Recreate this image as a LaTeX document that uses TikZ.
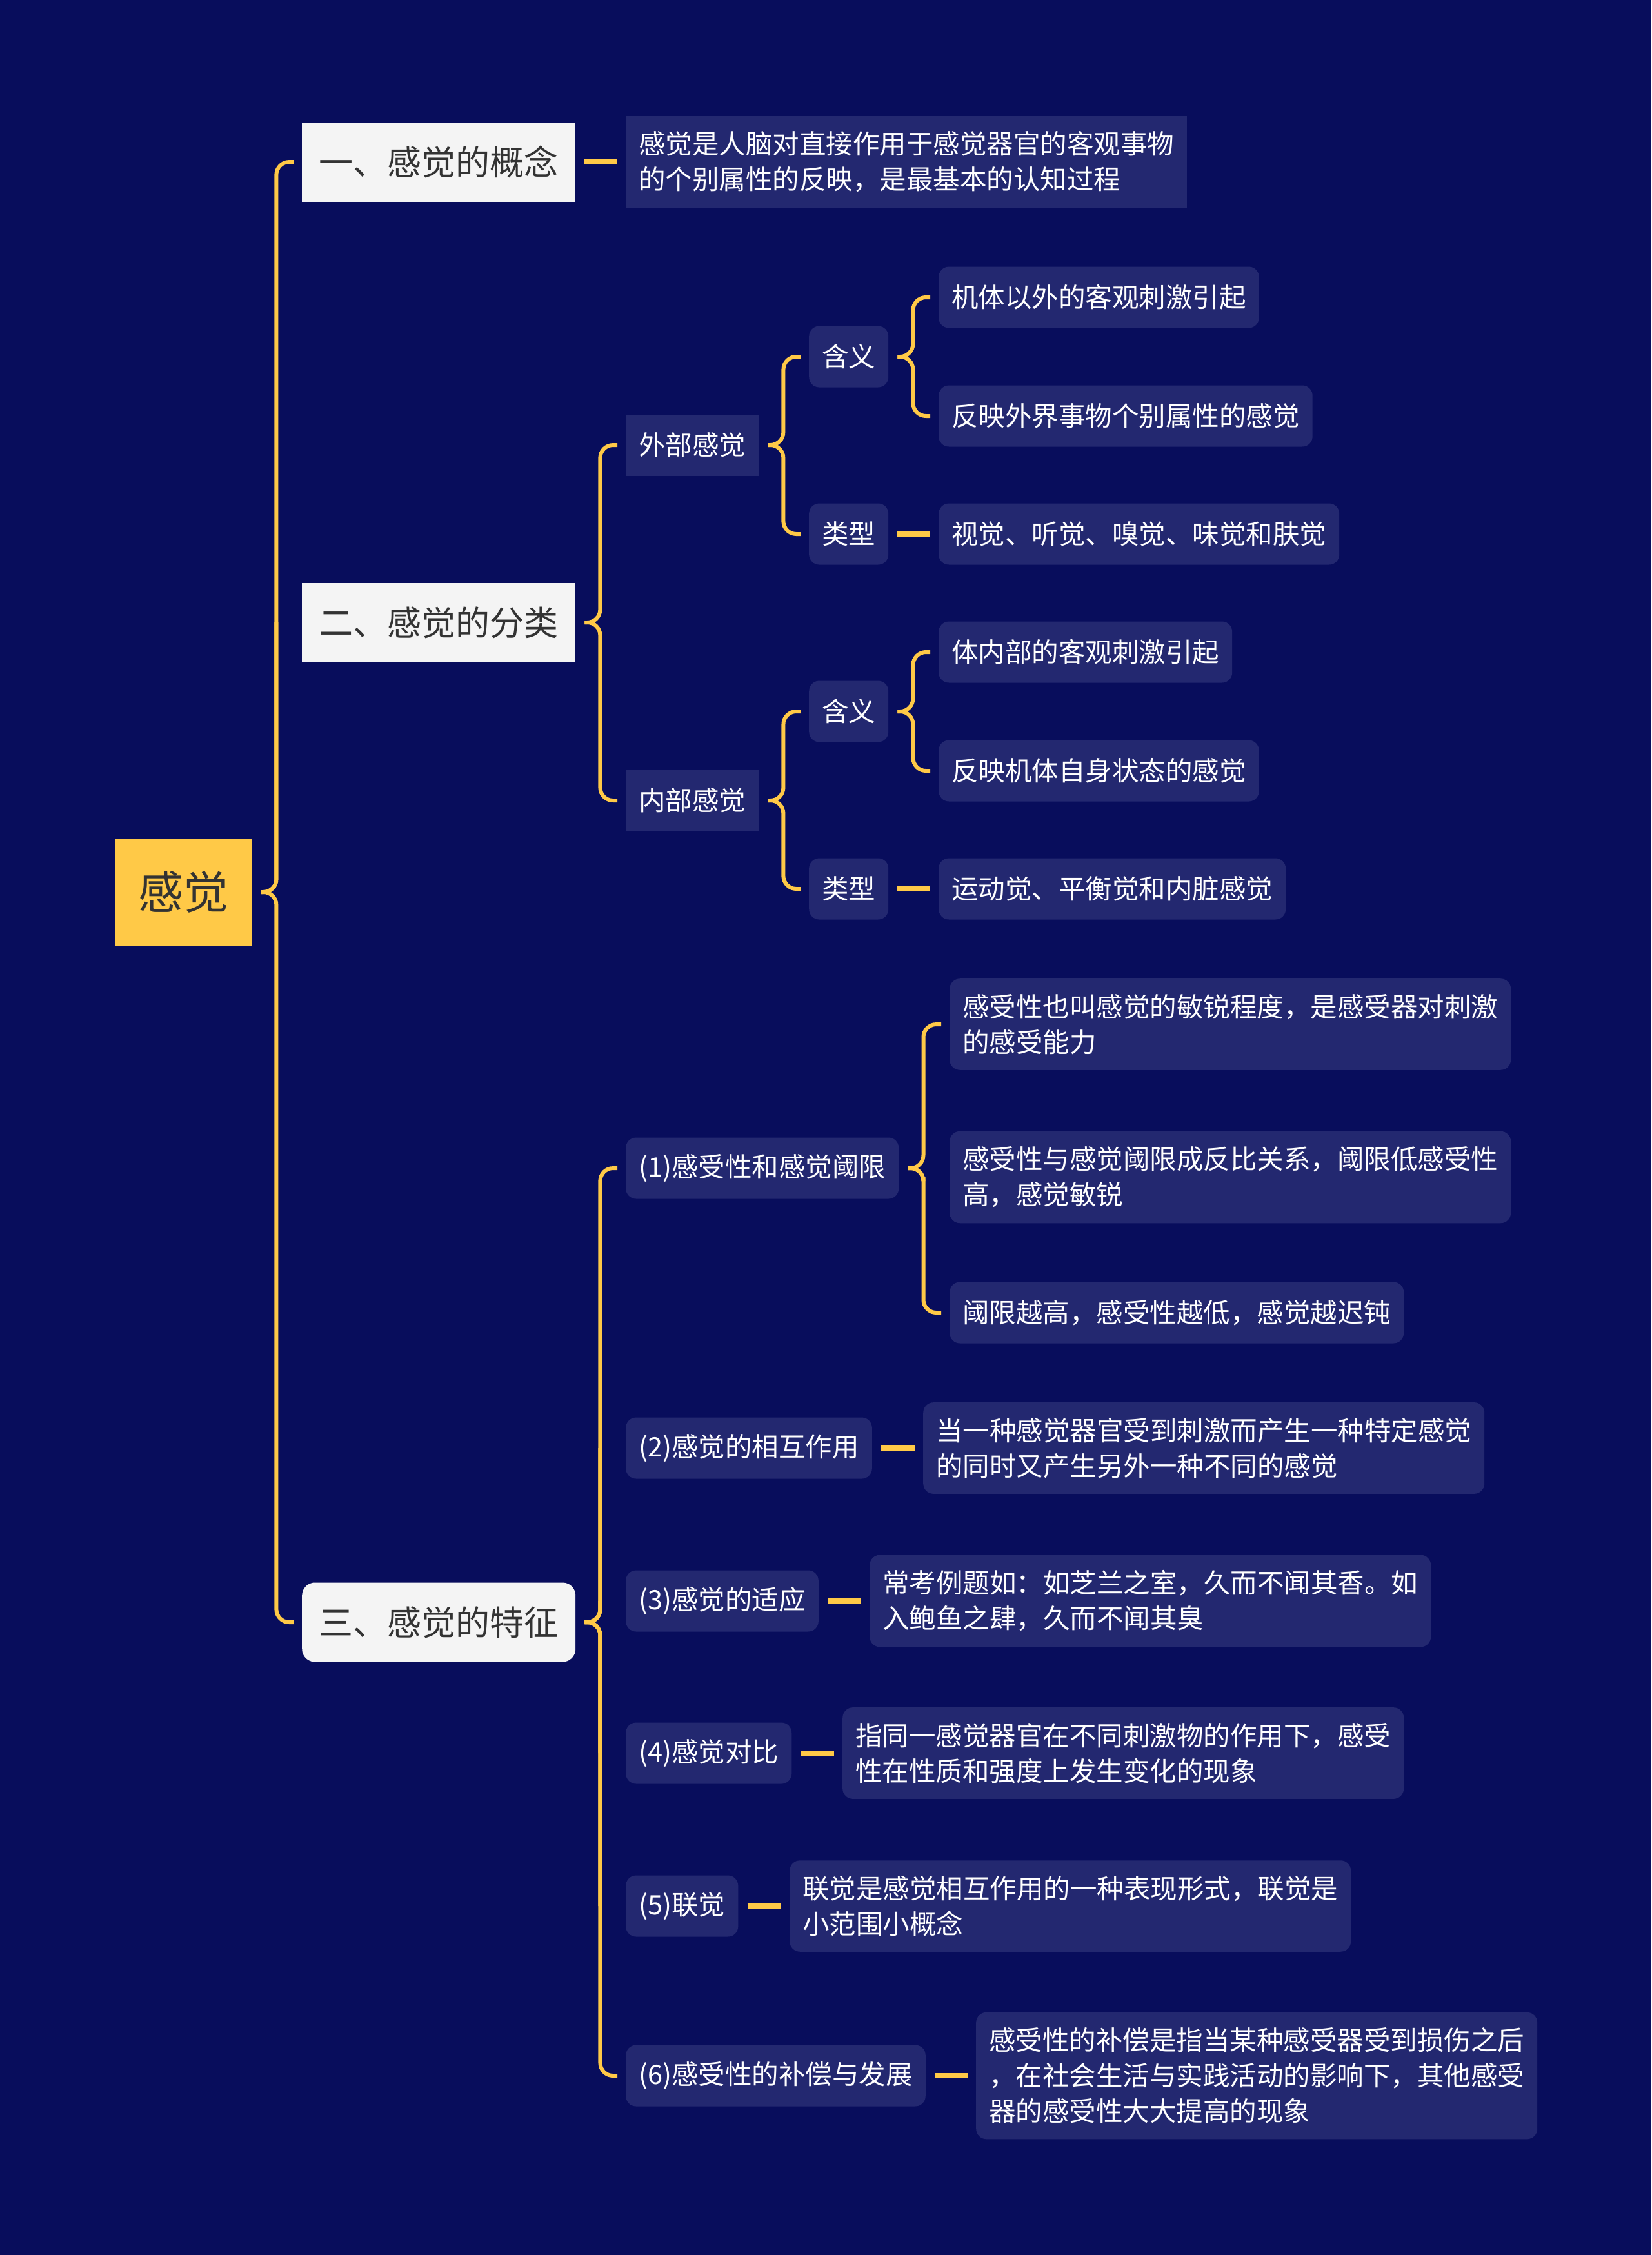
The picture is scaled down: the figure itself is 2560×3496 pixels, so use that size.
\documentclass[tikz,border=0pt]{standalone}
\usepackage{fontspec}
\setmainfont{Noto Sans CJK SC}
\usepackage{tikz}
\usetikzlibrary{positioning, calc}
\definecolor{Navy}{RGB}{8, 13, 92}
\definecolor{Panel}{RGB}{35, 40, 112}
\definecolor{Gold}{RGB}{255, 201, 71}
\definecolor{Paper}{RGB}{244, 244, 244}
\definecolor{Ink}{RGB}{51, 51, 51}

\begin{document}
\begin{tikzpicture}[x=1pt, y=-1pt,
        root/.style={rectangle, fill=Gold, text=Ink, inner xsep=36pt, minimum height=166pt, anchor=west, font=\fontsize{70}{84}\selectfont},
        topic/.style={rectangle, fill=Paper, text=Ink, inner xsep=26.5pt, minimum height=123pt, anchor=west, font=\fontsize{53}{64}\selectfont},
        sub/.style={rectangle, fill=Panel, text=white, inner xsep=20pt, inner ysep=24pt, minimum height=95pt, align=left, anchor=west, font=\fontsize{41.5}{55}\selectfont},
        leaf/.style={sub, rounded corners=16pt},
        brace/.style={draw=Gold, line width=6pt, rounded corners=20pt,
            to path={($(\tikztostart.east)+(14pt,0pt)$) -- ($(\tikztostart.east)+(38pt,0pt)$) |- ($(\tikztotarget.west)+(-13pt,0pt)$)}},
        brace mid/.style={draw=Gold, line width=6pt, rounded corners=20pt,
            to path={($(\tikztostart.east)+(14pt,0pt)$) -- ($(\tikztostart.east)+(38pt,0pt)$) -- ($(\tikztostart.east |- \tikztotarget.west)+(38pt,0pt)$)}},
        stub/.style={draw=Gold, line width=8pt, shorten <=14pt, shorten >=13pt}
    ]%
        % ================= FONDO =================
        \fill[Navy] (0,0) rectangle (2560,3496);
        % ================= RAIZ Y TEMAS =================
        \node[root] (root) at (178, 1383) {感觉};
        \node[topic] (t1) at (468, 251) {一、感觉的概念};
        \node[topic] (t2) at (468, 965) {二、感觉的分类};
        \node[topic, rounded corners=20pt] (t3) at (468, 2515) {三、感觉的特征};
        % ================= 一、概念 =================
        \node[sub] (d1) at (970, 251) {感觉是人脑对直接作用于感觉器官的客观事物\\的个别属性的反映，是最基本的认知过程};
        % ================= 二、分类 =================
        % 1. 外部感觉
        \node[sub] (ext) at (970, 690) {外部感觉};
        \node[leaf] (extm) at (1254, 553) {含义};
        \node[leaf] (extt) at (1254, 828) {类型};
        \node[leaf] (extm1) at (1455, 461) {机体以外的客观刺激引起};
        \node[leaf] (extm2) at (1455, 645) {反映外界事物个别属性的感觉};
        \node[leaf] (extt1) at (1455, 828) {视觉、听觉、嗅觉、味觉和肤觉};
        % 2. 内部感觉
        \node[sub] (int) at (970, 1241) {内部感觉};
        \node[leaf] (intm) at (1254, 1103) {含义};
        \node[leaf] (intt) at (1254, 1378) {类型};
        \node[leaf] (intm1) at (1455, 1011) {体内部的客观刺激引起};
        \node[leaf] (intm2) at (1455, 1195) {反映机体自身状态的感觉};
        \node[leaf] (intt1) at (1455, 1378) {运动觉、平衡觉和内脏感觉};
        % ================= 三、特征 =================
        \node[leaf] (s1) at (970, 1811) {(1)感受性和感觉阈限};
        \node[leaf] (s1a) at (1472, 1588) {感受性也叫感觉的敏锐程度，是感受器对刺激\\的感受能力};
        \node[leaf] (s1b) at (1472, 1825) {感受性与感觉阈限成反比关系，阈限低感受性\\高，感觉敏锐};
        \node[leaf] (s1c) at (1472, 2035) {阈限越高，感受性越低，感觉越迟钝};
        \node[leaf] (s2) at (970, 2245) {(2)感觉的相互作用};
        \node[leaf] (s2a) at (1431, 2245) {当一种感觉器官受到刺激而产生一种特定感觉\\的同时又产生另外一种不同的感觉};
        \node[leaf] (s3) at (970, 2482) {(3)感觉的适应};
        \node[leaf] (s3a) at (1348, 2482) {常考例题如：如芝兰之室，久而不闻其香。如\\入鲍鱼之肆，久而不闻其臭};
        \node[leaf] (s4) at (970, 2718) {(4)感觉对比};
        \node[leaf] (s4a) at (1306, 2718) {指同一感觉器官在不同刺激物的作用下，感受\\性在性质和强度上发生变化的现象};
        \node[leaf] (s5) at (970, 2955) {(5)联觉};
        \node[leaf] (s5a) at (1224, 2955) {联觉是感觉相互作用的一种表现形式，联觉是\\小范围小概念};
        \node[leaf] (s6) at (970, 3218) {(6)感受性的补偿与发展};
        \node[leaf] (s6a) at (1513, 3218) {感受性的补偿是指当某种感受器受到损伤之后\\，在社会生活与实践活动的影响下，其他感受\\器的感受性大大提高的现象};
        % ================= CONECTORES =================
        \draw[brace] (root) to (t1);
        \draw[brace mid] (root) to (t2);
        \draw[brace] (root) to (t3);
        \draw[stub] (t1.east) -- (d1.west);
        % llaves del bloque 二
        \draw[brace] (t2) to (ext);
        \draw[brace] (t2) to (int);
        \draw[brace] (ext) to (extm);
        \draw[brace] (ext) to (extt);
        \draw[brace] (extm) to (extm1);
        \draw[brace] (extm) to (extm2);
        \draw[stub] (extt.east) -- (extt1.west);
        \draw[brace] (int) to (intm);
        \draw[brace] (int) to (intt);
        \draw[brace] (intm) to (intm1);
        \draw[brace] (intm) to (intm2);
        \draw[stub] (intt.east) -- (intt1.west);
        % llaves del bloque 三 (los hijos del medio solo tocan la llave)
        \draw[brace] (t3) to (s1);
        \draw[brace mid] (t3) to (s2);
        \draw[brace mid] (t3) to (s3);
        \draw[brace mid] (t3) to (s4);
        \draw[brace mid] (t3) to (s5);
        \draw[brace] (t3) to (s6);
        \draw[brace] (s1) to (s1a);
        \draw[brace mid] (s1) to (s1b);
        \draw[brace] (s1) to (s1c);
        \draw[stub] (s2.east) -- (s2a.west);
        \draw[stub] (s3.east) -- (s3a.west);
        \draw[stub] (s4.east) -- (s4a.west);
        \draw[stub] (s5.east) -- (s5a.west);
        \draw[stub] (s6.east) -- (s6a.west);
    \end{tikzpicture}
\end{document}
